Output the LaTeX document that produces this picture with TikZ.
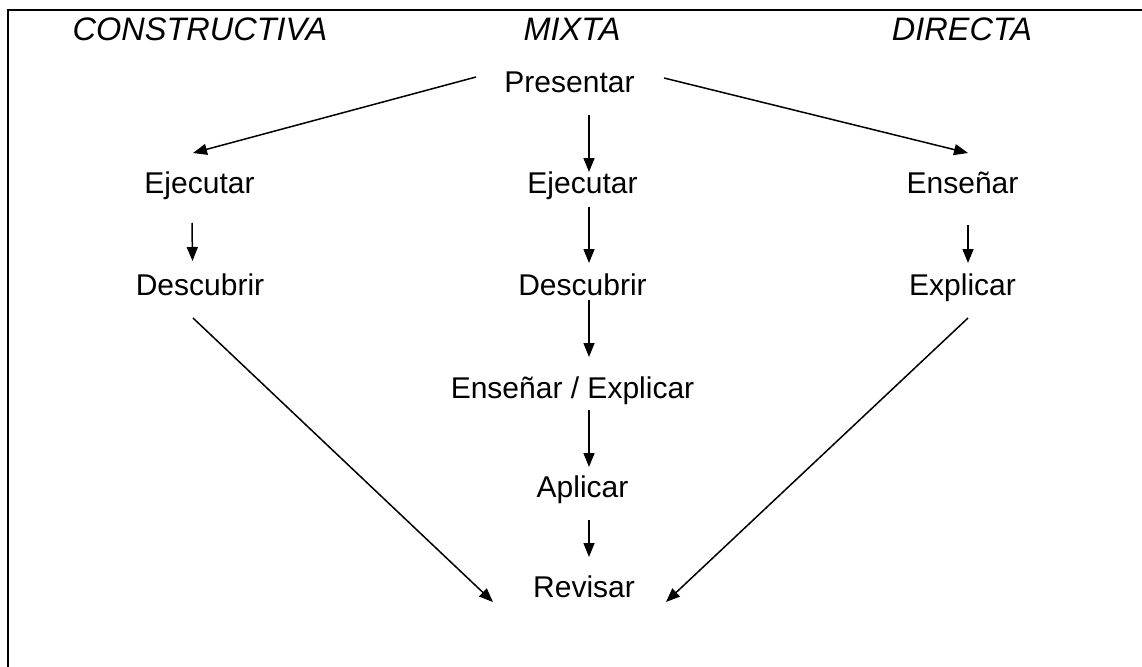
\documentclass[tikz,border=0pt]{standalone}
\usepackage{fontspec}
\setmainfont{Liberation Sans}
\usetikzlibrary{arrows.meta}
\begin{document}
\begin{tikzpicture}[x=1pt,y=-1pt,
  lbl/.style={anchor=base,inner sep=0pt,font=\fontsize{30}{36}\selectfont},
  head/.style={anchor=base,inner sep=0pt,font=\fontsize{32.5}{38}\selectfont\itshape},
  arr/.style={line width=1.5pt,-{Triangle[length=14pt,width=11pt]}},
  frame/.style={line width=2.6pt}]
\useasboundingbox (0,0) rectangle (1142,666);
\clip (0,0) rectangle (1142,666);
\draw[frame] (8,10) rectangle (1160,690);

% column headings
\node[head] (hc) at (200,41) {CONSTRUCTIVA};
\node[head] (hm) at (572,41) {MIXTA};
\node[head] (hd) at (962,41) {DIRECTA};

% steps
\node[lbl] (pres)  at (569.5,93)  {Presentar};
\node[lbl] (ejL)   at (199.5,193) {Ejecutar};
\node[lbl] (ejM)   at (582.5,193) {Ejecutar};
\node[lbl] (ens)   at (962.5,193) {Enseñar};
\node[lbl] (descL) at (200,295)   {Descubrir};
\node[lbl] (descM) at (582.5,295) {Descubrir};
\node[lbl] (expl)  at (962.5,295) {Explicar};
\node[lbl] (ee)    at (572.5,398) {Enseñar / Explicar};
\node[lbl] (apl)   at (582.5,497) {Aplicar};
\node[lbl] (rev)   at (584,597)   {Revisar};

% connectors
\draw[arr] ([shift={(-93.5,-16)}]pres.base) -- ([shift={(-6.5,-40)}]ejL.base);
\draw[arr] ([shift={(94.5,-15)}]pres.base) -- ([shift={(5.5,-40)}]ens.base);
\draw[arr] ([shift={(19.5,22)}]pres.base) -- ([shift={(6.5,-21)}]ejM.base);
\draw[arr] ([shift={(-7.5,30)}]ejL.base) -- ([shift={(-7.5,-34)}]descL.base);
\draw[arr] ([shift={(5.5,32)}]ens.base) -- ([shift={(5.5,-32)}]expl.base);
\draw[arr] ([shift={(6.5,14)}]ejM.base) -- ([shift={(6.5,-32)}]descM.base);
\draw[arr] ([shift={(6.5,5)}]descM.base) -- ([shift={(16.5,-41)}]ee.base);
\draw[arr] ([shift={(16.5,12)}]ee.base) -- ([shift={(6.5,-30)}]apl.base);
\draw[arr] ([shift={(6.5,23)}]apl.base) -- ([shift={(5,-40)}]rev.base);
\draw[arr] ([shift={(-7,23)}]descL.base) -- ([shift={(-91,5)}]rev.base);
\draw[arr] ([shift={(5.5,23)}]expl.base) -- ([shift={(82,5)}]rev.base);
\end{tikzpicture}
\end{document}
